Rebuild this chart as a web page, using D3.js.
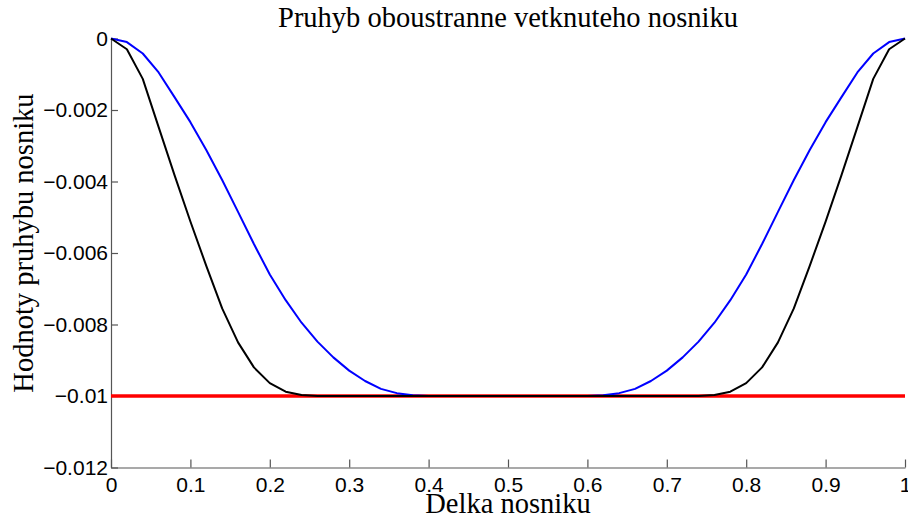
<!DOCTYPE html>
<html>
<head>
<meta charset="utf-8">
<script src="https://cdn.jsdelivr.net/npm/d3@7"></script>
<style>
    body { margin: 0; background: #fff; }
    .lbl { font-family: "Liberation Serif", "Times New Roman", serif; font-size: 28.5px; fill: #000; }
    .axis text { font-family: "Liberation Sans", Arial, sans-serif; font-size: 21px; fill: #000; }
</style>
</head>
<body>
<div id="graph"></div>
<script>
var xValues = [0, 0.02, 0.04, 0.06, 0.08, 0.1, 0.12, 0.14, 0.16, 0.18, 0.2,
    0.22, 0.24, 0.26, 0.28, 0.3, 0.32, 0.34, 0.36, 0.38, 0.4,
    0.42, 0.44, 0.46, 0.48, 0.5, 0.52, 0.54, 0.56, 0.58, 0.6,
    0.62, 0.64, 0.66, 0.68, 0.7, 0.72, 0.74, 0.76, 0.78, 0.8,
    0.82, 0.84, 0.86, 0.88, 0.9, 0.92, 0.94, 0.96, 0.98, 1];

// blue curve
var blueValues = [0, -0.0001, -0.00042, -0.00095, -0.00164, -0.00234, -0.00312, -0.00396, -0.00485, -0.00575, -0.0066,
    -0.00732, -0.00795, -0.00848, -0.00892, -0.00929, -0.00958, -0.0098, -0.00992, -0.00998, -0.01,
    -0.01, -0.01, -0.01, -0.01, -0.01, -0.01, -0.01, -0.01, -0.01, -0.01,
    -0.00998, -0.00992, -0.0098, -0.00958, -0.00929, -0.00892, -0.00848, -0.00795, -0.00732, -0.0066,
    -0.00575, -0.00485, -0.00396, -0.00312, -0.00234, -0.00164, -0.00095, -0.00042, -0.0001, 0];

// black curve
var blackValues = [0, -0.0003, -0.00113, -0.00248, -0.00382, -0.00512, -0.00636, -0.00755, -0.0085, -0.0092, -0.00964,
    -0.00988, -0.00997, -0.01, -0.01, -0.01, -0.01, -0.01, -0.01, -0.01, -0.01,
    -0.01, -0.01, -0.01, -0.01, -0.01, -0.01, -0.01, -0.01, -0.01, -0.01,
    -0.01, -0.01, -0.01, -0.01, -0.01, -0.01, -0.01, -0.00997, -0.00988, -0.00964,
    -0.0092, -0.0085, -0.00755, -0.00636, -0.00512, -0.00382, -0.00248, -0.00113, -0.0003, 0];

// red reference line
var redX = [0, 1];
var redValues = [-0.01, -0.01];

var xTicks = [0, 0.1, 0.2, 0.3, 0.4, 0.5, 0.6, 0.7, 0.8, 0.9, 1];
var xTickLabels = ["0", "0.1", "0.2", "0.3", "0.4", "0.5", "0.6", "0.7", "0.8", "0.9", "1"];
var yTicks = [0, -0.002, -0.004, -0.006, -0.008, -0.01, -0.012];
var yTickLabels = ["0", "\u22120.002", "\u22120.004", "\u22120.006", "\u22120.008", "\u22120.01", "\u22120.012"];

var titleText = "Pruhyb oboustranne vetknuteho nosniku";
var xLabelText = "Delka nosniku";
var yLabelText = "Hodnoty pruhybu nosniku";

var width = 908, height = 520;
var plotLeft = 111, plotRight = 905, plotTop = 38.5, plotBottom = 467.5;

var svg = d3.select("#graph")
    .append("svg")
    .attr("width", width)
    .attr("height", height);

var x = d3.scaleLinear().domain([0, 1]).range([plotLeft, plotRight]);
var y = d3.scaleLinear().domain([-0.012, 0]).range([plotBottom, plotTop]);

var xAxis = d3.axisBottom(x)
    .tickValues(xTicks)
    .tickFormat((d, i) => xTickLabels[i])
    .tickSizeInner(-8)
    .tickSizeOuter(0)
    .tickPadding(10);

var yAxis = d3.axisLeft(y)
    .tickValues(yTicks)
    .tickFormat((d, i) => yTickLabels[i])
    .tickSizeInner(-7)
    .tickSizeOuter(0)
    .tickPadding(3);

var gx = svg.append("g")
    .attr("class", "axis")
    .attr("transform", "translate(0," + plotBottom + ")")
    .call(xAxis);

var gy = svg.append("g")
    .attr("class", "axis")
    .attr("transform", "translate(" + plotLeft + ",0)")
    .call(yAxis);

[gx, gy].forEach(g => {
    g.select(".domain").attr("stroke", "#555").attr("stroke-width", 1.2);
    g.selectAll(".tick line").attr("stroke", "#555").attr("stroke-width", 1.2);
    g.selectAll(".tick text").style("font-size", "21px");
});
gx.selectAll(".tick text").attr("dy", "0.71em");

function makeLine(xs, ys) {
    return d3.line()
        .x((d, i) => x(xs[i]))
        .y((d) => y(d))(ys);
}

function render() {
    svg.append("path")
        .attr("d", makeLine(redX, redValues))
        .attr("fill", "none")
        .attr("stroke", "#ff0000")
        .attr("stroke-width", 3.5);

    svg.append("path")
        .attr("d", makeLine(xValues, blueValues))
        .attr("fill", "none")
        .attr("stroke", "#0000ff")
        .attr("stroke-width", 2)
        .attr("stroke-linejoin", "round");

    svg.append("path")
        .attr("d", makeLine(xValues, blackValues))
        .attr("fill", "none")
        .attr("stroke", "#000")
        .attr("stroke-width", 2)
        .attr("stroke-linejoin", "round");
}

render();

svg.append("text")
    .attr("class", "lbl")
    .attr("x", 508)
    .attr("y", 26.5)
    .attr("text-anchor", "middle")
    .text(titleText);

svg.append("text")
    .attr("class", "lbl")
    .attr("x", 508)
    .attr("y", 513)
    .attr("text-anchor", "middle")
    .text(xLabelText);

svg.append("text")
    .attr("class", "lbl")
    .attr("transform", "translate(33,243) rotate(-90)")
    .attr("text-anchor", "middle")
    .text(yLabelText);
</script>
</body>
</html>
